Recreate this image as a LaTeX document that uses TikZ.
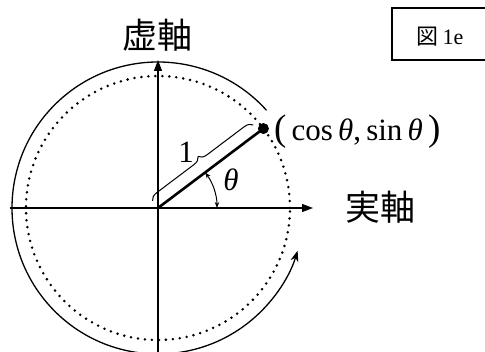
\documentclass[tikz,border=0pt]{standalone}
\usepackage{fontspec}
\setmainfont{Liberation Serif}
\newfontfamily\jpfont{Noto Sans CJK JP}
\usetikzlibrary{arrows.meta,decorations.pathreplacing}

\begin{document}
\begin{tikzpicture}[x=1pt,y=1pt,
  axis/.style={line width=1.1pt,-{Triangle[length=11pt,width=8pt]}},
  big/.style={font=\fontsize{31}{33}\selectfont},
  jp/.style={font=\jpfont\fontsize{35}{37}\selectfont}]
  \useasboundingbox (-158,-144) rectangle (327,208);
  \coordinate (O) at (0,0);
  \coordinate (xl) at (-148,0);
  \coordinate (xr) at (155,0);
  \coordinate (yb) at (0,-146);
  \coordinate (yt) at (0,148);
  \draw[axis] (xl) -- (xr);
  \draw[axis] (yb) -- (yt);
  \draw[line width=2.8pt,line cap=round,dash pattern=on 0pt off 7pt] (O) circle (132);
  \draw[line width=1.3pt,-{Stealth[length=11pt,width=8pt]}] (42:146) arc (42:343:146);
  \node[circle,fill,inner sep=0pt,minimum size=11pt] (pt) at (37:132) {};
  \draw[line width=2.6pt] (O) -- (pt.center);
  \draw[line width=1pt,{Stealth[length=6pt]}-{Stealth[length=6pt]}] (59,0) arc (0:37:59);
  \coordinate (b1) at (127:9);
  \coordinate (b2) at ([shift={(127:9)}]37:126);
  \draw[line width=1pt,decorate,decoration={brace,amplitude=8pt}] (b1) -- (b2);
  \node[big] (one) at (28,56) {1};
  \node[big] (th) at (73,28) {\textit{θ}};
  \node[big,anchor=west,inner sep=0pt] (pl) at (116,76) {{\fontsize{37}{37}\selectfont(}\,cos\,\textit{θ},\,sin\,\textit{θ}\,{\fontsize{37}{37}\selectfont)}};
  \node[jp] (im) at (0,173) {虚軸};
  \node[jp] (re) at (222,1) {実軸};
  \draw[line width=1.1pt] (234,148) rectangle (340,200);
  \node[font=\fontsize{22}{24}\selectfont] (fig) at (282,171) {{\jpfont 図}\hspace{4pt}1e};
\end{tikzpicture}
\end{document}
